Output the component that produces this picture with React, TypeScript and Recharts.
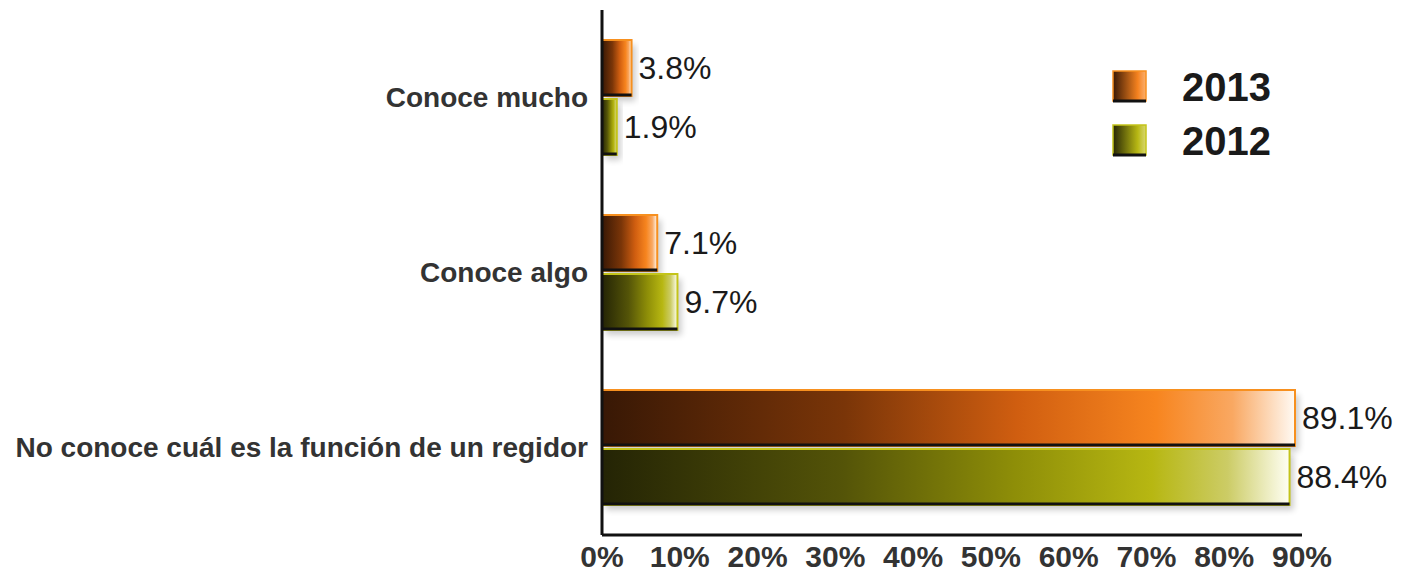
import { BarChart, Bar, XAxis, YAxis, LabelList } from "recharts"

const categories = ["Conoce mucho", "Conoce algo", "No conoce cuál es la función de un regidor"]
const values2013 = [3.8, 7.1, 89.1]
const values2012 = [1.9, 9.7, 88.4]
const xTicks = [0, 10, 20, 30, 40, 50, 60, 70, 80, 90]
const seriesNames = ["2013", "2012"]

const FONT = "'Liberation Sans', Arial, sans-serif"

const data = categories.map((name, i) => ({
  name,
  y2013: values2013[i],
  y2012: values2012[i],
}))

const EDGE: Record<string, string> = {
  "url(#gOrange)": "#f7901f",
  "url(#gOlive)": "#c4c41a",
}

// bar with gradient, bright outline, dark bottom and soft shadow
function BevelBar(props: any) {
  const { x, y, width, height, fill } = props
  if (!width || width <= 0) return null
  return (
    <g>
      <rect x={x + 4} y={y + 5} width={width} height={height} fill="#000" opacity={0.2} filter="url(#soft)" />
      <rect x={x} y={y} width={width} height={height} fill={fill} stroke={EDGE[fill]} strokeWidth={2} />
      <line x1={x} x2={x + width} y1={y + height - 1} y2={y + height - 1} stroke="#111" strokeWidth={3} />
    </g>
  )
}

function LegendBox() {
  const items = [
    { name: seriesNames[0], fill: "url(#lOrange)", edge: "#f7901f" },
    { name: seriesNames[1], fill: "url(#lOlive)", edge: "#c4c41a" },
  ]
  return (
    <div style={{ position: "absolute", left: 1111, top: 60, fontFamily: FONT }}>
      <svg width={0} height={0} style={{ position: "absolute" }}>
        <defs>
          <linearGradient id="lOrange" x1="0" y1="0" x2="1" y2="0">
            <stop offset="0" stopColor="#3a1905" />
            <stop offset="0.75" stopColor="#f5821f" />
            <stop offset="1" stopColor="#fbb070" />
          </linearGradient>
          <linearGradient id="lOlive" x1="0" y1="0" x2="1" y2="0">
            <stop offset="0" stopColor="#262605" />
            <stop offset="0.75" stopColor="#b8b814" />
            <stop offset="1" stopColor="#d8d870" />
          </linearGradient>
        </defs>
      </svg>
      {items.map((it) => (
        <div key={it.name} style={{ display: "flex", alignItems: "center", height: 54 }}>
          <svg width={40} height={36}>
            <rect x={2} y={2} width={33} height={30} fill={it.fill} stroke={it.edge} strokeWidth={1.5} />
            <line x1={2} x2={35} y1={32} y2={32} stroke="#111" strokeWidth={3} />
          </svg>
          <span style={{ fontSize: 40, fontWeight: 700, color: "#1a1a1a", marginLeft: 31 }}>{it.name}</span>
        </div>
      ))}
    </div>
  )
}

export default function App() {
  return (
    <div style={{ position: "absolute", left: 0, top: 0, width: 1415, height: 577, background: "#fff" }}>
      <BarChart
        width={1415}
        height={577}
        data={data}
        layout="vertical"
        margin={{ top: 10, right: 113, bottom: 0, left: 0 }}
        barSize={56}
        barGap={3}
      >
        <defs>
          <filter id="soft" x="-10%" y="-30%" width="120%" height="160%">
            <feGaussianBlur stdDeviation="3" />
          </filter>
          <linearGradient id="gOrange" x1="0" y1="0" x2="1" y2="0">
            <stop offset="0" stopColor="#381805" />
            <stop offset="0.35" stopColor="#7a3508" />
            <stop offset="0.6" stopColor="#d05e10" />
            <stop offset="0.8" stopColor="#f7851f" />
            <stop offset="0.91" stopColor="#f9a862" />
            <stop offset="1" stopColor="#fffaf4" />
          </linearGradient>
          <linearGradient id="gOlive" x1="0" y1="0" x2="1" y2="0">
            <stop offset="0" stopColor="#242405" />
            <stop offset="0.35" stopColor="#545408" />
            <stop offset="0.6" stopColor="#8e8e08" />
            <stop offset="0.8" stopColor="#b7b712" />
            <stop offset="0.91" stopColor="#cccc66" />
            <stop offset="1" stopColor="#fffff4" />
          </linearGradient>
        </defs>
        <XAxis
          type="number"
          domain={[0, 90]}
          ticks={xTicks}
          interval={0}
          height={42}
          tickSize={0}
          tickMargin={11}
          tickFormatter={(v: number) => `${v}%`}
          axisLine={{ stroke: "#111", strokeWidth: 3 }}
          tickLine={false}
          tick={{ fontSize: 30, fontWeight: 700, fill: "#333", fontFamily: FONT }}
        />
        <YAxis
          type="category"
          dataKey="name"
          width={602}
          tickSize={0}
          tickMargin={14}
          axisLine={{ stroke: "#111", strokeWidth: 3 }}
          tickLine={false}
          tick={{ fontSize: 28, fontWeight: 700, fill: "#333", fontFamily: FONT }}
        />
        <Bar dataKey="y2013" name={seriesNames[0]} fill="url(#gOrange)" shape={BevelBar} isAnimationActive={false}>
          <LabelList
            dataKey="y2013"
            position="right"
            offset={7}
            formatter={(v: number) => `${v.toFixed(1)}%`}
            style={{ fontSize: 32, fill: "#1a1a1a", fontFamily: FONT }}
          />
        </Bar>
        <Bar dataKey="y2012" name={seriesNames[1]} fill="url(#gOlive)" shape={BevelBar} isAnimationActive={false}>
          <LabelList
            dataKey="y2012"
            position="right"
            offset={7}
            formatter={(v: number) => `${v.toFixed(1)}%`}
            style={{ fontSize: 32, fill: "#1a1a1a", fontFamily: FONT }}
          />
        </Bar>
      </BarChart>
      <LegendBox />
    </div>
  )
}
